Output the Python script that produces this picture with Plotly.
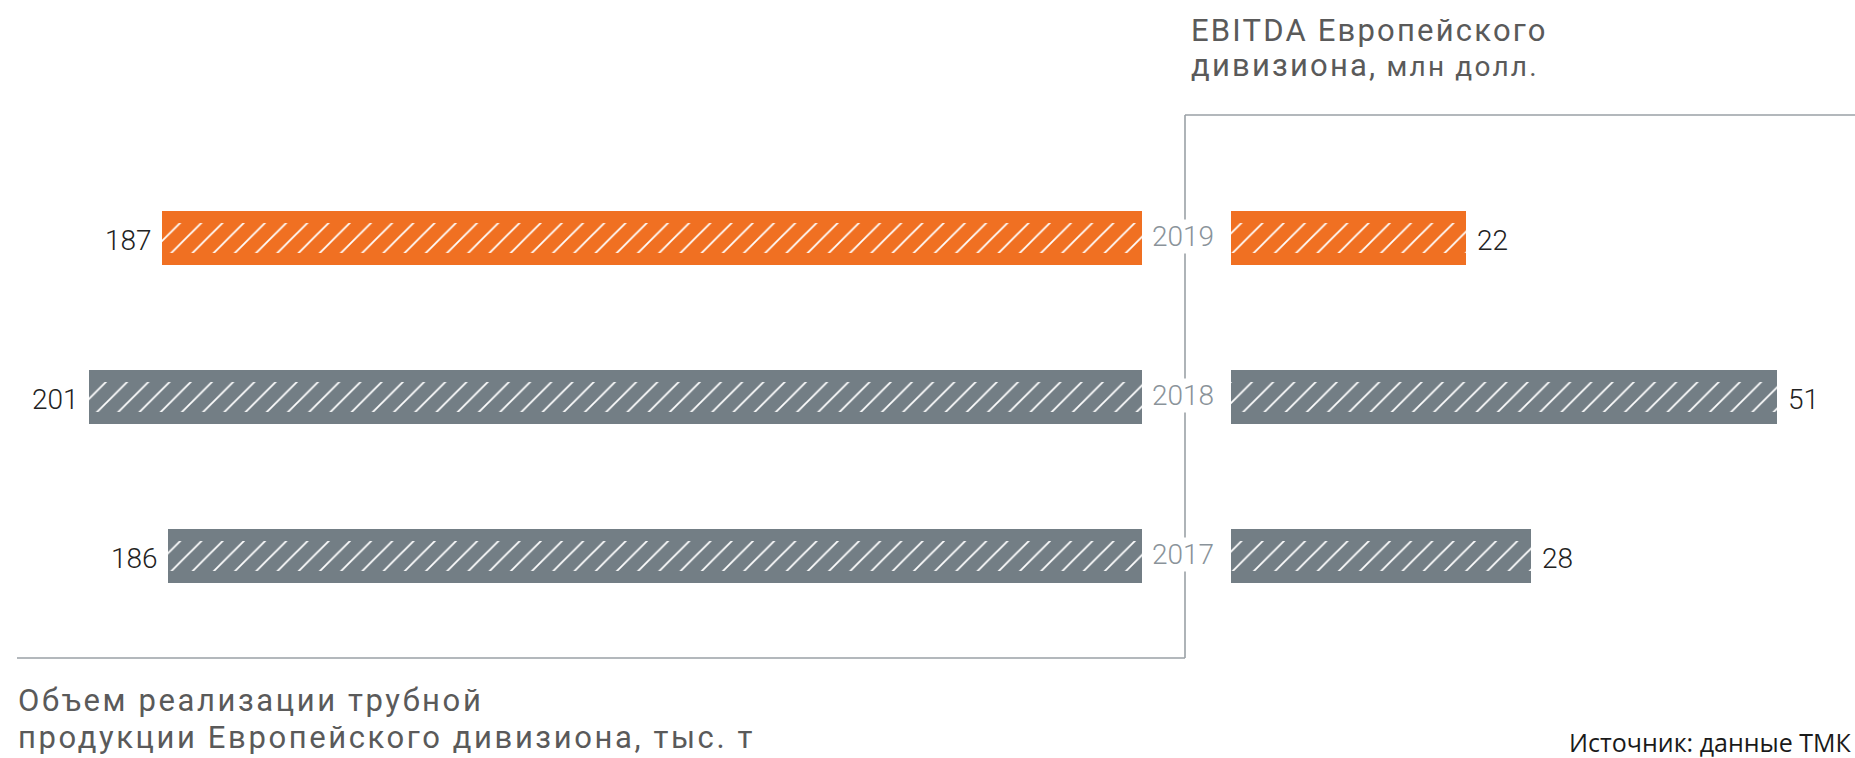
import plotly.graph_objects as go

# ---- data ----
years = ["2017", "2018", "2019"]
volume_kt = [186, 201, 187]        # Объем реализации трубной продукции, тыс. т
ebitda_musd = [28, 51, 22]         # EBITDA, млн долл.
bar_colors = ["#737E85", "#737E85", "#F07022"]

title_top_1 = "EBITDA Европейского"
title_top_2a = "дивизиона,"
title_top_2b = " млн долл."
title_bot_1 = "Объем реализации трубной"
title_bot_2 = "продукции Европейского дивизиона, тыс. т"
source_text = "Источник: данные ТМК"

# ---- layout constants ----
W, H = 1855, 758
FONT = "Roboto"
ypos = list(range(len(years)))


def px(x):
    return x / W


def py(y):
    return 1 - y / H


def spaced(t, ls):
    return "<span style='letter-spacing:%spx'>%s</span>" % (ls, t)


fig = go.Figure()

# solid bars (full thickness)
for xa, vals in (("x", volume_kt), ("x2", ebitda_musd)):
    fig.add_trace(go.Bar(
        x=vals, y=ypos, orientation="h", xaxis=xa, yaxis="y",
        width=0.34, marker=dict(color=bar_colors, line=dict(width=0)),
        hoverinfo="skip", showlegend=False))

# hatched inner band, one trace per bar so every pattern gets its own colours
for xa, vals in (("x", volume_kt), ("x2", ebitda_musd)):
    for i, v in enumerate(vals):
        fig.add_trace(go.Bar(
            x=[v], y=[ypos[i]], orientation="h", xaxis=xa, yaxis="y",
            width=0.19,
            marker=dict(color=bar_colors[i], line=dict(width=0),
                        pattern=dict(shape="/", fillmode="overlay",
                                     fgcolor="#FFFFFF", fgopacity=1,
                                     size=15, solidity=0.12)),
            hoverinfo="skip", showlegend=False))

num_font = dict(family=FONT, size=28, color="#222222", weight=300)
annotations = []
for i, (v, e, yr) in enumerate(zip(volume_kt, ebitda_musd, years)):
    annotations.append(dict(
        x=v, y=i, xref="x", yref="y", text=str(v), showarrow=False,
        xanchor="right", yanchor="middle", xshift=-8, yshift=-2, font=num_font))
    annotations.append(dict(
        x=e, y=i, xref="x2", yref="y", text=str(e), showarrow=False,
        xanchor="left", yanchor="middle", xshift=9, yshift=-2, font=num_font))
    annotations.append(dict(
        x=px(1183), y=i, xref="paper", yref="y", text=yr,
        showarrow=False, xanchor="center", yanchor="middle", yshift=2,
        bgcolor="white", borderpad=0,
        font=dict(family=FONT, size=28, color="#8A939A", weight=300)))

title_color = "#5A5A5A"
annotations += [
    dict(x=px(1189), y=py(30), xref="paper", yref="paper",
         text=spaced(title_top_1, 2.2), showarrow=False, xanchor="left", yanchor="middle",
         font=dict(family=FONT, size=31, color=title_color)),
    dict(x=px(1189), y=py(65), xref="paper", yref="paper",
         text=spaced(title_top_2a, 2.2)
         + "<span style='font-size:28px;letter-spacing:2.2px'>" + title_top_2b + "</span>",
         showarrow=False, xanchor="left", yanchor="middle",
         font=dict(family=FONT, size=31, color=title_color)),
    dict(x=px(16), y=py(700), xref="paper", yref="paper", text=spaced(title_bot_1, 2.6),
         showarrow=False, xanchor="left", yanchor="middle",
         font=dict(family=FONT, size=31, color=title_color)),
    dict(x=px(16), y=py(737), xref="paper", yref="paper", text=spaced(title_bot_2, 2.6),
         showarrow=False, xanchor="left", yanchor="middle",
         font=dict(family=FONT, size=31, color=title_color)),
    dict(x=1, y=py(742), xref="paper", yref="paper", text=source_text,
         showarrow=False, xanchor="right", yanchor="middle", xshift=-1,
         font=dict(family="Open Sans", size=25, color="#1A1A1A")),
]

line_style = dict(color="#9AA1A6", width=1.6)
shapes = [
    dict(type="line", xref="paper", yref="paper", x0=px(17), x1=px(1185),
         y0=py(658), y1=py(658), line=line_style),
    dict(type="line", xref="paper", yref="paper", x0=px(1185), x1=px(1185),
         y0=py(115), y1=py(658), line=line_style),
    dict(type="line", xref="paper", yref="paper", x0=px(1185), x1=1,
         y0=py(115), y1=py(115), line=line_style),
]

fig.update_layout(
    width=W, height=H,
    margin=dict(l=0, r=0, t=0, b=0),
    paper_bgcolor="white", plot_bgcolor="white",
    barmode="overlay", bargap=0,
    xaxis=dict(domain=[0, px(1142)], range=[218, 0], visible=False, fixedrange=True),
    xaxis2=dict(domain=[px(1231), 1], range=[0, 58.3], visible=False,
                anchor="y", fixedrange=True),
    yaxis=dict(domain=[0, 1], range=[-1.27, 3.497], visible=False, fixedrange=True),
    annotations=annotations,
    shapes=shapes,
)

fig.write_html("out.html", config={"displayModeBar": False})

# remove the browser's default page margin so the figure sits at the top-left corner
with open("out.html", encoding="utf-8") as f:
    html = f.read()
html = html.replace("<head>", "<head><style>html,body{margin:0;padding:0;overflow:hidden}</style>", 1)
with open("out.html", "w", encoding="utf-8") as f:
    f.write(html)
